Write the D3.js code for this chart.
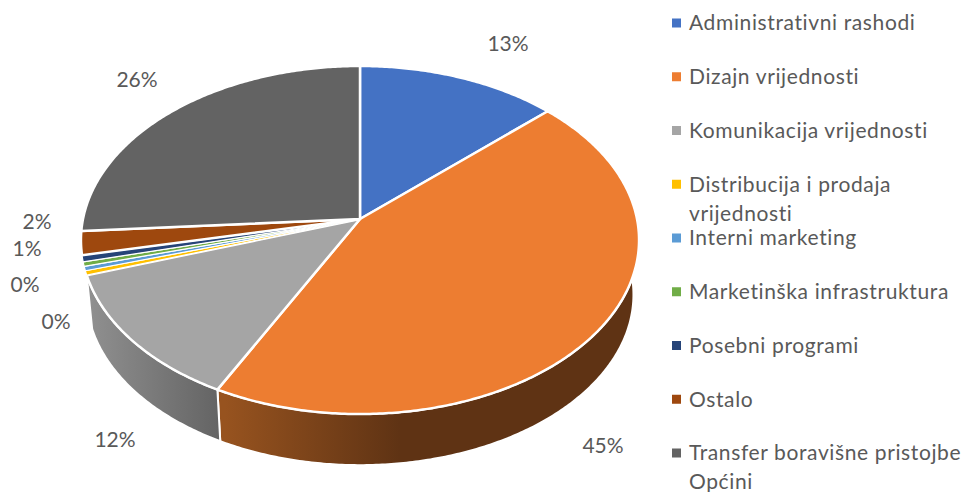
<!DOCTYPE html>
<html>
<head>
<meta charset="utf-8">
<script src="https://cdn.jsdelivr.net/npm/d3@7.9.0/dist/d3.min.js"></script>
<style>
  html, body { margin: 0; padding: 0; background: #fff; }
  text { font-family: Lato, sans-serif; fill: #595959; }
</style>
</head>
<body>
<div id="chart"></div>
<script>
const categories = [
  "Administrativni rashodi",
  "Dizajn vrijednosti",
  "Komunikacija vrijednosti",
  "Distribucija i prodaja vrijednosti",
  "Interni marketing",
  "Marketinška infrastruktura",
  "Posebni programi",
  "Ostalo",
  "Transfer boravišne pristojbe Općini"
];
const values = [13.1, 44.5, 12.3, 0.4, 0.4, 0.4, 0.6, 2.2, 26.1];
const colors = ["#4472c4", "#ed7d31", "#a5a5a5", "#ffc000", "#5b9bd5", "#70ad47", "#264478", "#9e480e", "#636363"];

// legend text, wrapped the way the original wraps it
const legendLines = [
  ["Administrativni rashodi"],
  ["Dizajn vrijednosti"],
  ["Komunikacija vrijednosti"],
  ["Distribucija i prodaja", "vrijednosti"],
  ["Interni marketing"],
  ["Marketinška infrastruktura"],
  ["Posebni programi"],
  ["Ostalo"],
  ["Transfer boravišne pristojbe", "Općini"]
];

// where each data label sits (null = label is not shown in the original)
const labelPos = [
  [508, 44], [603, 446], [115, 440], [56, 322], [25, 285], null, [27, 249], [37, 222], [137, 80]
];

const width = 964, height = 492;

const svg = d3.select("#chart").append("svg")
  .attr("width", width)
  .attr("height", height)
  .style("display", "block");

// pie is drawn in perspective: the centre is not the middle of the ellipse
const cx = 360, cy = 219;
const persp = 0.1207, radX = 277, radY = 171.5;
const depth = 55, bottomScale = 0.98;

function project(angle, r, lower) {
  const x = r * Math.sin(angle), y = -r * Math.cos(angle);
  const w = 1 - persp * y;
  const s = lower ? bottomScale : 1;
  return [cx + s * radX * x / w, cy + (lower ? depth : 0) + s * radY * y / w];
}

const pie = d3.pie().sort(null).value(d => d)(values);
const line = d3.line();

function arcPoints(a0, a1, lower) {
  const n = Math.max(2, Math.ceil((a1 - a0) / 0.01));
  return d3.range(n + 1).map(i => project(a0 + (a1 - a0) * i / n, 1, lower));
}

// horizontal shading on the side wall
const defs = svg.append("defs");
function wallGradient(id, x1, x2, from, to) {
  const g = defs.append("linearGradient")
    .attr("id", id)
    .attr("gradientUnits", "userSpaceOnUse")
    .attr("x1", x1).attr("x2", x2).attr("y1", 0).attr("y2", 0);
  g.append("stop").attr("offset", "0%").attr("stop-color", from);
  g.append("stop").attr("offset", "100%").attr("stop-color", to);
}
wallGradient("wall-orange", 225, 400, "#97531f", "#5f3314");
wallGradient("wall-grey", 88, 222, "#909090", "#636363");

// only the two big front slices show a wall
const walls = [
  { slice: pie[1], fill: "url(#wall-orange)" },
  { slice: pie[2], fill: "url(#wall-grey)" }
];

svg.selectAll(".wall")
  .data(walls)
  .join("path")
    .attr("class", "wall")
    .attr("d", d => {
      const top = arcPoints(d.slice.startAngle, d.slice.endAngle, false);
      const bottom = arcPoints(d.slice.startAngle, d.slice.endAngle, true).reverse();
      return line(top.concat(bottom)) + "Z";
    })
    .attr("fill", d => d.fill)
    .attr("stroke", "#fff")
    .attr("stroke-width", 2)
    .attr("stroke-linejoin", "round");

svg.selectAll(".slice")
  .data(pie)
  .join("path")
    .attr("class", "slice")
    .attr("d", d => line([[cx, cy]].concat(arcPoints(d.startAngle, d.endAngle, false))) + "Z")
    .attr("fill", (d, i) => colors[i])
    .attr("stroke", "#fff")
    .attr("stroke-width", d => d.value < 1 ? 1.2 : 2.5)
    .attr("stroke-linejoin", "round");

// data labels
svg.selectAll(".pct")
  .data(pie.filter((d, i) => labelPos[i]))
  .join("text")
    .attr("class", "pct")
    .attr("x", d => labelPos[d.index][0])
    .attr("y", d => labelPos[d.index][1])
    .attr("dy", "0.35em")
    .attr("text-anchor", "middle")
    .style("font-size", "21px")
    .text(d => Math.round(d.value) + "%");

// legend
const legendY = d3.scalePoint()
  .domain(categories)
  .range([23, 453]);

const legend = svg.selectAll(".legend-row")
  .data(categories)
  .join("g")
    .attr("class", "legend-row")
    .attr("transform", d => `translate(0,${legendY(d)})`);

legend.append("rect")
  .attr("x", 672)
  .attr("y", -4.5)
  .attr("width", 9)
  .attr("height", 9)
  .attr("fill", (d, i) => colors[i]);

legend.each(function(d, i) {
  d3.select(this).selectAll("text")
    .data(legendLines[i])
    .join("text")
      .attr("x", 689)
      .attr("y", (t, j) => j * 29)
      .attr("dy", "0.35em")
      .style("font-size", "21px")
      .style("letter-spacing", "0.62px")
      .text(t => t);
});
</script>
</body>
</html>
